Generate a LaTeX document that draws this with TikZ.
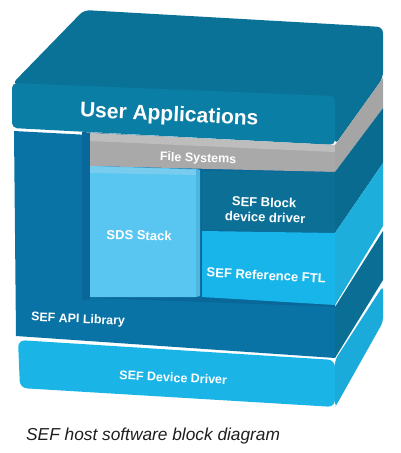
\documentclass[tikz,border=0pt]{standalone}
\usepackage{fontspec}
\setmainfont{Liberation Sans}
\definecolor{uatop}{HTML}{0A7296}
\definecolor{uafront}{HTML}{0B7EA6}
\definecolor{apifront}{HTML}{0A73A6}
\definecolor{apiside}{HTML}{0B6F95}
\definecolor{recess}{HTML}{09679A}
\definecolor{fsfront}{HTML}{A9A9A9}
\definecolor{fstop}{HTML}{BDBDBD}
\definecolor{fsside}{HTML}{A5A5A5}
\definecolor{sdsfront}{HTML}{58C6F0}
\definecolor{sdstop}{HTML}{78CDEE}
\definecolor{sdsside}{HTML}{4DB6DF}
\definecolor{blkfront}{HTML}{0B6F96}
\definecolor{blkside}{HTML}{0A6B90}
\definecolor{ftlfront}{HTML}{17B5E9}
\definecolor{ftlside}{HTML}{1EAEDB}
\definecolor{drvfront}{HTML}{1AB4E7}
\definecolor{drvside}{HTML}{1BABDA}
\definecolor{captxt}{HTML}{1E1E1E}
\begin{document}
\begin{tikzpicture}[x=1pt,y=-1pt,
  lbl/.style={text=white,font=\bfseries\fontsize{13}{15}\selectfont,inner sep=0pt,anchor=base}]
\useasboundingbox (0,0) rectangle (400,453);
% ---------- User Applications slab ----------
\fill[uatop,rounded corners=6] (12,84) -- (84,10) -- (383,27) -- (383,78) -- (335,145) -- (335,97) -- cycle;
\fill[uafront,rounded corners=5] (12,83) -- (335,96) -- (335,145) -- (12,128) -- cycle;
% ---------- API library block (left column + bottom band) ----------
\fill[apifront] (14,131) -- (335,148) -- (335,358) -- (16,336) -- cycle;
\fill[recess] (82,132) -- (335,146) -- (335,307) -- (82,300) -- cycle;
\fill[apifront] (90,298) -- (335,307) -- (335,310) -- (90,302) -- cycle;
\fill[apiside] (335,307) -- (383,231) -- (383,280) -- (335,358) -- cycle;
% ---------- File Systems ----------
\fill[fsfront] (90,133) -- (335,145) -- (335,172) -- (90,166) -- cycle;
\fill[fstop] (90,133) -- (335,145) -- (335,152) -- (90,141) -- cycle;
\fill[fsside] (335,145) -- (383,78) -- (383,108) -- (335,172) -- cycle;
% ---------- SDS Stack ----------
\fill[sdsfront] (90,166) -- (196,169) -- (196,297) -- (90,297) -- cycle;
\fill[sdstop] (90,166) -- (200,170) -- (196,175) -- (90,173) -- cycle;
\fill[sdsside] (196,169) -- (200,170) -- (200,296) -- (196,297) -- cycle;
% ---------- SEF Block device driver ----------
\fill[blkfront] (202,171) -- (335,172) -- (335,233) -- (202,230) -- cycle;
\fill[blkside] (335,172) -- (383,108) -- (383,163) -- (335,233) -- cycle;
% ---------- SEF Reference FTL ----------
\fill[ftlfront] (202,231) -- (335,233) -- (335,305) -- (202,297) -- cycle;
\fill[ftlside] (335,233) -- (383,163) -- (383,226) -- (335,305) -- cycle;
% ---------- SEF Device Driver ----------
\fill[drvfront,rounded corners=7] (18,340) -- (335,360) -- (335,407) -- (20,388) -- cycle;
\fill[drvside,rounded corners=4] (335,360) -- (383,286) -- (383,322) -- (337,404) -- (335,407) -- cycle;
% ---------- labels ----------
\node[lbl,font=\bfseries\fontsize{21}{24}\selectfont,rotate=-2.7] (ua) at (169,121) {User Applications};
\node[lbl,font=\bfseries\fontsize{12.5}{14}\selectfont,rotate=-2] (fs) at (198,162) {File Systems};
\node[lbl,rotate=-1.5] (sds) at (139,240) {SDS Stack};
\node[lbl,rotate=-2] (blk1) at (264,207) {SEF Block};
\node[lbl,rotate=-2] (blk2) at (265,222) {device driver};
\node[lbl,rotate=-3] (ftl) at (266,280) {SEF Reference FTL};
\node[lbl,font=\bfseries\fontsize{12.4}{14}\selectfont,rotate=-2.5] (api) at (78,323) {SEF API Library};
\node[lbl,font=\bfseries\fontsize{12.5}{14}\selectfont,rotate=-2.7] (drv) at (173,382) {SEF Device Driver};
\node[anchor=base west,inner sep=0pt,text=captxt,font=\itshape\fontsize{17.3}{20}\selectfont] (cap) at (26,440) {SEF host software block diagram};
\end{tikzpicture}
\end{document}
